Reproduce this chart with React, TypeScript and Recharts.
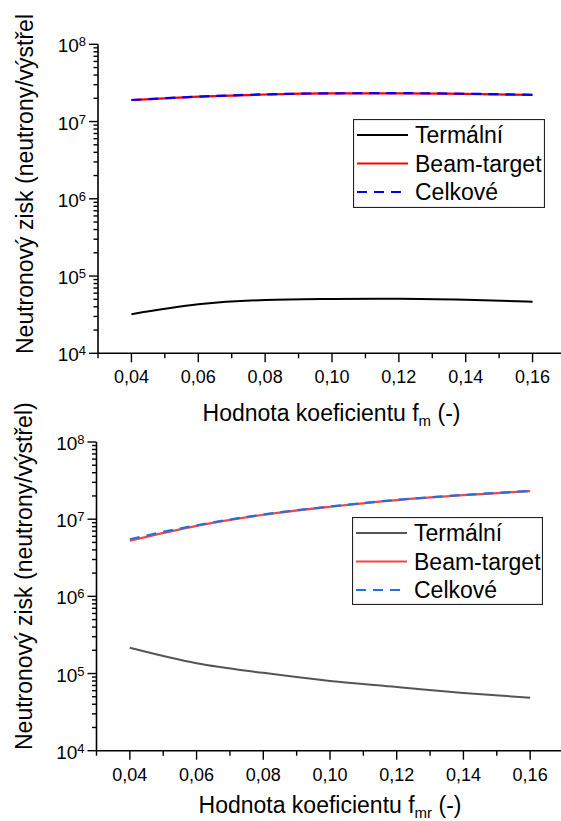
import { LineChart, Line, XAxis, YAxis } from "recharts";

// sampled coefficient values
const F_VALUES = [0.04, 0.06, 0.08, 0.1, 0.12, 0.14, 0.16];

// neutron yield vs f_m
const FM_THERMAL = [3.2e4, 4.3e4, 4.9e4, 5.05e4, 5.1e4, 4.95e4, 4.65e4];
const FM_BEAM = [1.9e7, 2.1e7, 2.24e7, 2.31e7, 2.32e7, 2.28e7, 2.21e7];
const FM_TOTAL = [1.9e7, 2.1e7, 2.25e7, 2.32e7, 2.33e7, 2.29e7, 2.22e7];

// neutron yield vs f_mr
const FMR_THERMAL = [2.16e5, 1.36e5, 1.02e5, 8.0e4, 6.7e4, 5.6e4, 4.85e4];
const FMR_BEAM = [5.25e6, 8.2e6, 1.14e7, 1.45e7, 1.77e7, 2.05e7, 2.31e7];
const FMR_TOTAL = [5.5e6, 8.35e6, 1.15e7, 1.46e7, 1.78e7, 2.06e7, 2.32e7];

const SERIES_NAMES = ["Termální", "Beam-target", "Celkové"];
const X_TICKS = [0.03, 0.04, 0.05, 0.06, 0.07, 0.08, 0.09, 0.1, 0.11, 0.12, 0.13, 0.14, 0.15, 0.16, 0.17];
const Y_DECADES = [1e4, 1e5, 1e6, 1e7, 1e8];
const Y_MANTISSAS = [1, 2, 3, 4, 5, 6, 7, 8, 9];

const Y_TICKS = Y_DECADES.flatMap((d, i) =>
  i === Y_DECADES.length - 1 ? [d] : Y_MANTISSAS.map((m) => m * d)
);

const FONT = "'Liberation Sans', Arial, sans-serif";
const DASH = "10 7";

type Row = { f: number; thermal: number; beam: number; total: number };

const toRows = (th: number[], bt: number[], tot: number[]): Row[] =>
  F_VALUES.map((f, i) => ({ f, thermal: th[i], beam: bt[i], total: tot[i] }));

function YTick(props: any) {
  const { x, y, payload } = props;
  const v = payload.value;
  const major = Y_DECADES.includes(v);
  return (
    <g>
      <line x1={x - (major ? 9 : 4.5)} x2={x} y1={y} y2={y} stroke="#000" strokeWidth={1.4} />
      {major && (
        <text x={x - 12} y={y + 8} textAnchor="end" fontSize={19} fill="#000" fontFamily={FONT}>
          10
          <tspan dy={-6} fontSize={13}>
            {Math.round(Math.log10(v))}
          </tspan>
        </text>
      )}
    </g>
  );
}

function XTick(props: any) {
  const { x, y, payload } = props;
  const v = payload.value;
  const major = Math.round(v * 100) % 2 === 0;
  return (
    <g>
      <line x1={x} x2={x} y1={y} y2={y + (major ? 9 : 5)} stroke="#000" strokeWidth={1.4} />
      {major && (
        <text x={x} y={y + 30} textAnchor="middle" fontSize={18} fill="#000" fontFamily={FONT}>
          {v.toFixed(2).replace(".", ",")}
        </text>
      )}
    </g>
  );
}

type PanelProps = {
  rows: Row[];
  colors: string[];
  top: number;
  height: number;
  margin: { top: number; right: number; bottom: number; left: number };
  sub: string;
  yTitle: { x: number; y: number };
  xTitle: { x: number; y: number };
};

function Panel({ rows, colors, top, height, margin, sub, yTitle, xTitle }: PanelProps) {
  return (
    <div style={{ position: "absolute", left: 0, top }}>
      <LineChart width={575} height={height} data={rows} margin={margin}>
        <XAxis
          dataKey="f"
          type="number"
          domain={[0.03, 0.17]}
          ticks={X_TICKS}
          interval={0}
          tick={<XTick />}
          tickLine={false}
          tickSize={0}
          tickMargin={0}
          height={40}
          axisLine={{ stroke: "#000", strokeWidth: 1.6 }}
        />
        <YAxis
          type="number"
          scale="log"
          domain={[1e4, 1e8]}
          allowDataOverflow
          ticks={Y_TICKS}
          interval={0}
          tick={<YTick />}
          tickLine={false}
          tickSize={0}
          tickMargin={0}
          width={60}
          axisLine={{ stroke: "#000", strokeWidth: 1.6 }}
        />
        <Line type="monotone" dataKey="thermal" stroke={colors[0]} strokeWidth={2} dot={false} isAnimationActive={false} />
        <Line type="monotone" dataKey="beam" stroke={colors[1]} strokeWidth={2.2} dot={false} isAnimationActive={false} />
        <Line
          type="monotone"
          dataKey="total"
          stroke={colors[2]}
          strokeWidth={2.2}
          strokeDasharray={DASH}
          dot={false}
          isAnimationActive={false}
        />
        <text
          x={yTitle.x}
          y={yTitle.y}
          transform={`rotate(-90, ${yTitle.x}, ${yTitle.y})`}
          fontSize={23}
          fill="#000"
          fontFamily={FONT}
        >
          Neutronový zisk (neutrony/výstřel)
        </text>
        <text x={xTitle.x} y={xTitle.y} textAnchor="middle" fontSize={23} fill="#000" fontFamily={FONT}>
          Hodnota koeficientu f
          <tspan dy={4.5} fontSize={15}>
            {sub}
          </tspan>
          <tspan dy={-4.5}> (-)</tspan>
        </text>
      </LineChart>
    </div>
  );
}

function LegendBox({ x, y, w, h, colors }: { x: number; y: number; w: number; h: number; colors: string[] }) {
  const rowsY = [16, 44.5, 73];
  return (
    <svg style={{ position: "absolute", left: x, top: y }} width={w} height={h}>
      <rect x={0.5} y={0.5} width={w - 1} height={h - 1} fill="#fff" stroke="#222" strokeWidth={1.2} />
      {SERIES_NAMES.map((name, i) => (
        <g key={name}>
          <line
            x1={4}
            x2={55}
            y1={rowsY[i]}
            y2={rowsY[i]}
            stroke={colors[i]}
            strokeWidth={2.2}
            strokeDasharray={i === 2 ? DASH : undefined}
          />
          <text x={62} y={rowsY[i] + 8} fontSize={23} fill="#000" fontFamily={FONT}>
            {name}
          </text>
        </g>
      ))}
    </svg>
  );
}

const TOP_COLORS = ["#000000", "#ff0000", "#0000ff"];
const BOTTOM_COLORS = ["#555555", "#f04646", "#2270e0"];

export default function App() {
  return (
    <div
      style={{
        position: "absolute",
        left: 0,
        top: 0,
        width: 561,
        height: 821,
        overflow: "hidden",
        background: "#fff",
        fontFamily: FONT,
      }}
    >
      <Panel
        rows={toRows(FM_THERMAL, FM_BEAM, FM_TOTAL)}
        colors={TOP_COLORS}
        top={14}
        height={430}
        margin={{ top: 30.3, right: 9, bottom: 50.7, left: 38 }}
        sub="m"
        yTitle={{ x: 32.5, y: 340 }}
        xTitle={{ x: 331.5, y: 407 }}
      />
      <Panel
        rows={toRows(FMR_THERMAL, FMR_BEAM, FMR_TOTAL)}
        colors={BOTTOM_COLORS}
        top={380}
        height={441}
        margin={{ top: 62, right: 11.5, bottom: 30.3, left: 36.5 }}
        sub="mr"
        yTitle={{ x: 32.3, y: 370 }}
        xTitle={{ x: 330, y: 433 }}
      />
      <LegendBox x={353} y={119} w={192} h={89} colors={TOP_COLORS} />
      <LegendBox x={352} y={517} w={191} h={88} colors={BOTTOM_COLORS} />
    </div>
  );
}
